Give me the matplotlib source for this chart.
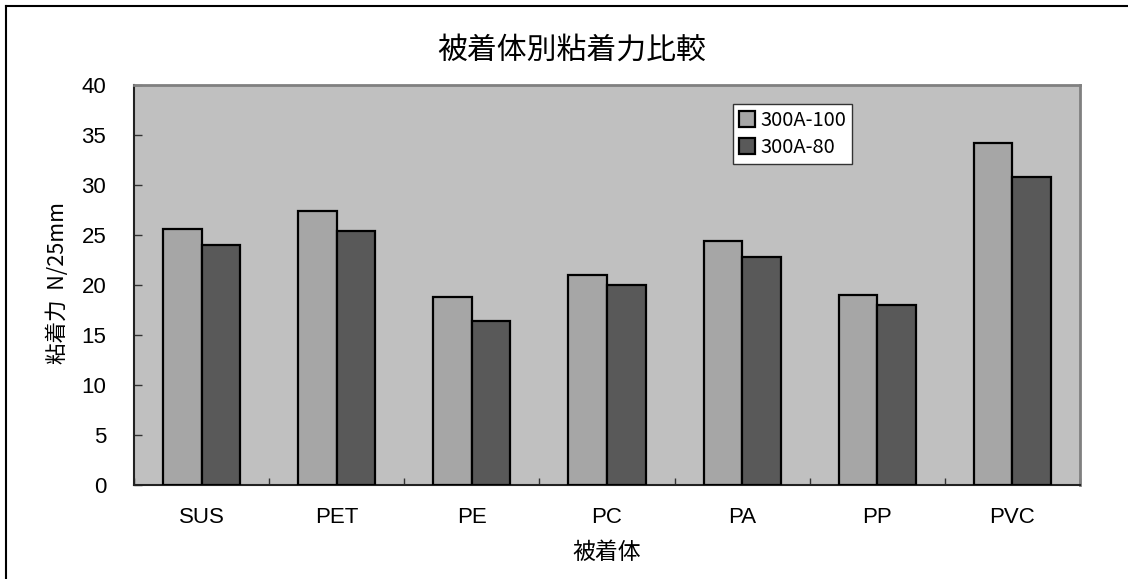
import matplotlib
matplotlib.use("Agg")
import matplotlib.pyplot as plt
from matplotlib.lines import Line2D
from matplotlib.ticker import FixedLocator, NullFormatter
import numpy as np

plt.rcParams['font.family'] = ['Noto Sans CJK JP', 'DejaVu Sans']

categories = ["SUS", "PET", "PE", "PC", "PA", "PP", "PVC"]
series_names = ["300A-100", "300A-80"]
values_100 = [25.6, 27.4, 18.8, 21.0, 24.4, 19.0, 34.2]
values_80 = [24.0, 25.4, 16.4, 20.0, 22.8, 18.0, 30.8]
y_ticks = [0, 5, 10, 15, 20, 25, 30, 35, 40]

title = "被着体別粘着力比較"
x_label = "被着体"
y_label = "粘着力  N/25mm"

fig = plt.figure(figsize=(11.28, 5.79), dpi=100)
fig.patch.set_facecolor("white")

# outer frame lines (top and left)
fig.add_artist(Line2D([6 / 1128, 1.0], [1 - 6 / 579, 1 - 6 / 579],
                      transform=fig.transFigure, color="black", lw=1.5))
fig.add_artist(Line2D([6 / 1128, 6 / 1128], [0.0, 1 - 6 / 579],
                      transform=fig.transFigure, color="black", lw=1.5))

ax = fig.add_axes([134 / 1128, 1 - 485 / 579, (1080 - 134) / 1128, (485 - 85) / 579])
ax.set_facecolor("#C0C0C0")

x = np.arange(len(categories))
w = 1 / 3.5
ax.bar(x - w / 2, values_100, width=w, color="#A6A6A6", edgecolor="black",
       linewidth=1.6, label=series_names[0], zorder=3)
ax.bar(x + w / 2, values_80, width=w, color="#595959", edgecolor="black",
       linewidth=1.6, label=series_names[1], zorder=3)

ax.set_xlim(-0.5, len(categories) - 0.5)
ax.set_ylim(0, 40)

for side in ("top", "right"):
    ax.spines[side].set_color("#808080")
    ax.spines[side].set_linewidth(2)
for side in ("left", "bottom"):
    ax.spines[side].set_color("#222222")
    ax.spines[side].set_linewidth(1.5)

ax.set_yticks(y_ticks)
ax.set_yticklabels([str(v) for v in y_ticks], family=["Liberation Sans"], fontsize=16)
ax.tick_params(axis="y", direction="in", length=6, width=1, color="#333333", pad=20)

ax.set_xticks(x)
ax.set_xticklabels(categories, family=["Liberation Sans"], fontsize=16)
ax.tick_params(axis="x", which="major", length=0, pad=16)
ax.xaxis.set_minor_locator(FixedLocator(np.arange(len(categories) + 1) - 0.5))
ax.xaxis.set_minor_formatter(NullFormatter())
ax.tick_params(axis="x", which="minor", direction="in", length=5, width=1, color="#333333")

fig.text(572 / 1128, 1 - 50 / 579, title, fontsize=21.5, ha="center", va="center")
fig.text(607 / 1128, 1 - 552 / 579, x_label, fontsize=16.5, ha="center", va="center")
fig.text(58 / 1128, 1 - 283 / 579, y_label, fontsize=15.5, ha="center", va="center",
         rotation=90)

leg = ax.legend(loc="upper left", bbox_to_anchor=((733 - 134) / 946, (485 - 104) / 400),
                frameon=True, fancybox=False, framealpha=1, edgecolor="#333333",
                fontsize=14.5, handlelength=0.8, handleheight=0.8, handletextpad=0.25,
                borderpad=0.3, labelspacing=0.3, borderaxespad=0)
leg.get_frame().set_linewidth(1)

fig.savefig("out.png", dpi=100, facecolor="white")
